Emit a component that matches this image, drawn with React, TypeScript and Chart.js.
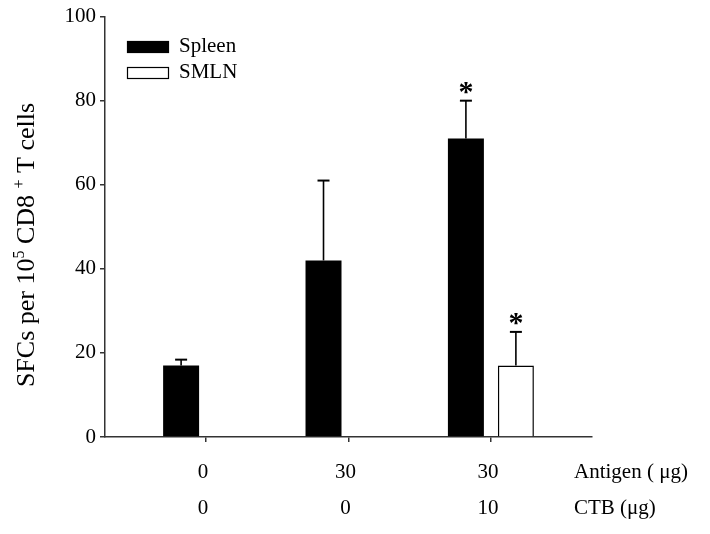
import React, { useEffect, useRef } from "react";
import { Chart, registerables } from "chart.js";

Chart.register(...registerables);

// ---- data ----
const categories = [0, 1, 2];
const antigenLabels = ["0", "30", "30"];
const ctbLabels = ["0", "0", "10"];
const spleenValues = [17, 42, 71];
const spleenErrors = [1.4, 19, 9];
const spleenSignificant = [false, false, true];
const smlnValues: (number | null)[] = [null, null, 17];
const smlnErrors: (number | null)[] = [null, null, 8];
const smlnSignificant = [false, false, true];
const yTicks = [0, 20, 40, 60, 80, 100];
const yTitleParts = [
  { text: "SFCs per 10", sup: false },
  { text: "5", sup: true },
  { text: " CD8 ", sup: false },
  { text: "+", sup: true },
  { text: " T cells", sup: false },
];
const rowTitles = ["Antigen ( \u03bcg)", "CTB (\u03bcg)"];

const SERIF = "'Liberation Serif', 'Times New Roman', serif";
const AXIS_COLOR = "#333";

const errorBarPlugin = {
  id: "errorBars",
  afterDatasetsDraw(chart: any) {
    const ctx = chart.ctx;
    const yScale = chart.scales.y;
    chart.data.datasets.forEach((ds: any, di: number) => {
      const meta = chart.getDatasetMeta(di);
      meta.data.forEach((bar: any, i: number) => {
        const v = ds.data[i].y;
        const e = ds.errors[i];
        if (v == null || e == null) return;
        const yTop = yScale.getPixelForValue(v + e);
        const yBar = yScale.getPixelForValue(v);
        const x = bar.x;
        ctx.save();
        ctx.strokeStyle = "#000";
        ctx.lineWidth = 1.6;
        ctx.beginPath();
        ctx.moveTo(x, yBar);
        ctx.lineTo(x, yTop);
        ctx.stroke();
        ctx.lineWidth = 2;
        ctx.beginPath();
        ctx.moveTo(x - 6, yTop);
        ctx.lineTo(x + 6, yTop);
        ctx.stroke();
        if (ds.significant[i]) {
          ctx.fillStyle = "#000";
          ctx.font = `bold 30px ${SERIF}`;
          ctx.textAlign = "center";
          ctx.textBaseline = "alphabetic";
          ctx.fillText("*", x, yTop);
        }
        ctx.restore();
      });
    });
  },
};

const decorPlugin = {
  id: "decor",
  afterDraw(chart: any) {
    const ctx = chart.ctx;
    ctx.save();
    // legend
    ctx.font = `21px ${SERIF}`;
    ctx.textBaseline = "middle";
    ctx.textAlign = "left";
    chart.data.datasets.forEach((ds: any, i: number) => {
      const bx = 127;
      const by = 41 + i * 26;
      ctx.fillStyle = ds.backgroundColor;
      ctx.fillRect(bx, by, 42, 12);
      ctx.strokeStyle = "#000";
      ctx.lineWidth = 1.2;
      ctx.strokeRect(bx + 0.5, by + 0.5, 41, 11);
      ctx.fillStyle = "#000";
      ctx.fillText(ds.label, 179, by + 5);
    });
    // row titles for x labels
    ctx.fillStyle = "#000";
    ctx.textAlign = "left";
    ctx.textBaseline = "middle";
    ctx.fillText(rowTitles[0], 574, 472);
    ctx.fillText(rowTitles[1], 574, 508);
    // y title
    ctx.translate(34, 245);
    ctx.rotate(-Math.PI / 2);
    ctx.textBaseline = "alphabetic";
    const mainFont = `26px ${SERIF}`;
    const supFont = `16px ${SERIF}`;
    let total = 0;
    yTitleParts.forEach((p) => {
      ctx.font = p.sup ? supFont : mainFont;
      total += ctx.measureText(p.text).width;
    });
    let u = -total / 2;
    yTitleParts.forEach((p) => {
      ctx.font = p.sup ? supFont : mainFont;
      ctx.fillText(p.text, u, p.sup ? -10 : 0);
      u += ctx.measureText(p.text).width;
    });
    ctx.restore();
  },
};

export default function App() {
  const ref = useRef<HTMLCanvasElement>(null);
  useEffect(() => {
    document.body.style.margin = "0";
    const chart = new Chart(ref.current as HTMLCanvasElement, {
      type: "bar",
      data: {
        datasets: [
          {
            label: "Spleen",
            data: categories.map((c, i) => ({ x: c, y: spleenValues[i] })),
            backgroundColor: "#000",
            borderColor: "#000",
            borderWidth: 0,
            categoryPercentage: 0.702,
            barPercentage: 0.72,
            errors: spleenErrors,
            significant: spleenSignificant,
          } as any,
          {
            label: "SMLN",
            data: categories.map((c, i) => ({ x: c, y: smlnValues[i] })),
            backgroundColor: "#fff",
            borderColor: "#000",
            borderWidth: 1.5,
            categoryPercentage: 0.702,
            barPercentage: 0.72,
            errors: smlnErrors,
            significant: smlnSignificant,
          } as any,
        ],
      },
      options: {
        responsive: false,
        animation: false,
        layout: { padding: { top: 16, right: 118, left: 0, bottom: 0 } },
        plugins: { legend: { display: false }, tooltip: { enabled: false } },
        scales: {
          x: {
            type: "linear",
            offset: false,
            min: -0.71,
            max: 2.71,
            afterBuildTicks: (scale: any) => {
              scale.ticks = categories.map((c) => ({ value: c }));
            },
            afterFit: (scale: any) => {
              scale.height = 97;
            },
            ticks: {
              color: "#000",
              font: { family: SERIF, size: 21, lineHeight: 36 / 21 },
              padding: 12,
              labelOffset: -3,
              maxRotation: 0,
              autoSkip: false,
              callback: (v: any) => {
                const i = categories.indexOf(Number(v));
                return i >= 0 ? [antigenLabels[i], ctbLabels[i]] : "";
              },
            },
            grid: {
              offset: false,
              drawOnChartArea: false,
              drawTicks: true,
              tickLength: 5,
              color: AXIS_COLOR,
              lineWidth: 1.5,
            },
            border: { display: true, color: AXIS_COLOR, width: 1.5 },
          },
          y: {
            min: 0,
            max: 100,
            afterBuildTicks: (scale: any) => {
              scale.ticks = yTicks.map((v) => ({ value: v }));
            },
            afterFit: (scale: any) => {
              scale.width = 105;
            },
            ticks: {
              color: "#000",
              font: { family: SERIF, size: 21 },
              padding: 4,
            },
            grid: {
              drawOnChartArea: false,
              drawTicks: true,
              tickLength: 5,
              color: AXIS_COLOR,
              lineWidth: 1.5,
            },
            border: { display: true, color: AXIS_COLOR, width: 1.5 },
          },
        },
      },
      plugins: [errorBarPlugin, decorPlugin],
    });
    return () => chart.destroy();
  }, []);
  return (
    <div style={{ width: 710, height: 534 }}>
      <canvas ref={ref} width={710} height={534} />
    </div>
  );
}
